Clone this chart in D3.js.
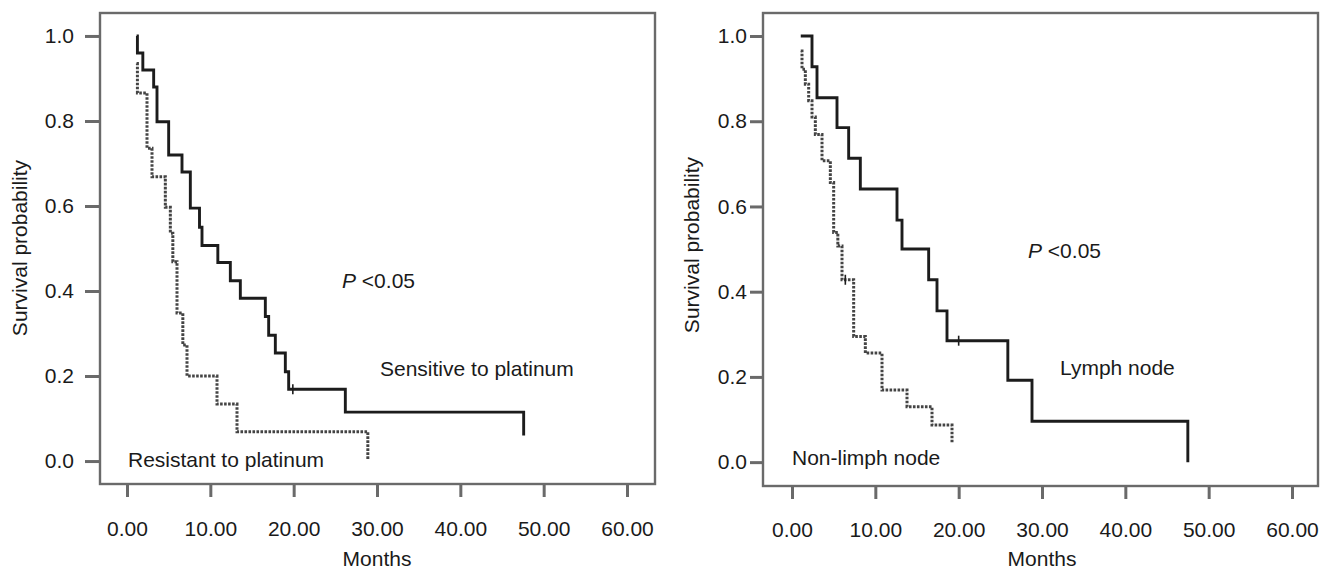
<!DOCTYPE html>
<html>
<head>
<meta charset="utf-8">
<script src="https://cdn.jsdelivr.net/npm/d3@7"></script>
<style>
  body { margin: 0; background: #fff; }
  svg { display: block; font-family: 'Liberation Sans', Arial, sans-serif; }
  .frame { fill: none; stroke: #6a6a6a; stroke-width: 2.4; }
  .axis path.domain { display: none; }
  .axis line { stroke: #6a6a6a; stroke-width: 3; }
  .axis text { font-size: 21px; fill: #1a1a1a; }
  .km { fill: none; }
  .km.solid { stroke: #1c1c1c; stroke-width: 2.9; }
  .km.dashed { stroke: #444; stroke-width: 3; stroke-dasharray: 2.6 1.4; }
  .censor { stroke: #1c1c1c; stroke-width: 1.6; }
  .label { font-size: 21px; fill: #1a1a1a; }
</style>
</head>
<body>
<svg width="1321" height="569"></svg>
<script>
const xTicks = [0, 10, 20, 30, 40, 50, 60]
const yTicks = [0, 0.2, 0.4, 0.6, 0.8, 1.0]

// left panel: platinum sensitivity
const sensitiveMonths = [1.15, 1.25, 1.9, 3.2, 3.6, 5.0, 6.6, 7.6, 8.7, 9.0, 10.9, 12.4, 13.6, 16.6, 17.0, 17.8, 19.0, 19.4, 26.2, 47.6]
const sensitiveSurv = [1.0, 0.96, 0.92, 0.88, 0.798, 0.72, 0.68, 0.595, 0.55, 0.507, 0.467, 0.424, 0.383, 0.34, 0.296, 0.254, 0.21, 0.169, 0.115, 0.06]
const sensitiveCensored = [[19.9, 0.169]]

const resistantMonths = [1.15, 1.25, 2.4, 3.0, 4.6, 5.2, 5.5, 6.0, 6.7, 7.2, 10.8, 13.2, 28.9]
const resistantSurv = [0.935, 0.866, 0.736, 0.669, 0.597, 0.536, 0.469, 0.348, 0.273, 0.2, 0.134, 0.069, 0.005]

// right panel: lymph node
const lymphMonths = [1.05, 2.4, 3.0, 5.4, 6.8, 8.2, 12.6, 13.2, 16.4, 17.4, 18.6, 25.9, 28.8, 47.5]
const lymphSurv = [1.0, 0.928, 0.855, 0.785, 0.713, 0.641, 0.568, 0.5, 0.428, 0.355, 0.285, 0.192, 0.096, 0.0]
const lymphCensored = [[20.0, 0.285]]

const nonLymphMonths = [1.05, 1.2, 1.6, 2.0, 2.4, 2.8, 3.6, 4.6, 5.0, 5.5, 6.0, 7.4, 8.8, 10.8, 13.8, 16.8, 19.2]
const nonLymphSurv = [0.965, 0.922, 0.887, 0.848, 0.81, 0.769, 0.707, 0.656, 0.539, 0.507, 0.428, 0.295, 0.256, 0.169, 0.13, 0.087, 0.045]
const nonLymphCensored = [[6.4, 0.428]]

const panels = [
  {
    frame: { left: 100, right: 655, top: 13, bottom: 484 },
    xDomain: [-3.24, 63.36], yDomain: [-0.054, 1.054],
    yTickSize: 15, yTickPad: 11, xTickSize: 13, xTickPad: 24,
    yLabel: { x: 20, y: 248 }, monthsY: 566,
    curves: [
      { months: sensitiveMonths, surv: sensitiveSurv, censored: sensitiveCensored, style: 'solid' },
      { months: resistantMonths, surv: resistantSurv, censored: [], style: 'dashed' }
    ],
    labels: [
      { text: 'Sensitive to platinum', x: 380, y: 376 },
      { text: 'Resistant to platinum', x: 128, y: 467 }
    ],
    pValue: { x: 342, y: 288 }
  },
  {
    frame: { left: 763, right: 1318, top: 13, bottom: 486 },
    xDomain: [-3.48, 63.12], yDomain: [-0.056, 1.054],
    yTickSize: 13, yTickPad: 3, xTickSize: 13, xTickPad: 23,
    yLabel: { x: 692, y: 245 }, monthsY: 566,
    curves: [
      { months: lymphMonths, surv: lymphSurv, censored: lymphCensored, style: 'solid' },
      { months: nonLymphMonths, surv: nonLymphSurv, censored: nonLymphCensored, style: 'dashed' }
    ],
    labels: [
      { text: 'Lymph node', x: 1060, y: 375 },
      { text: 'Non-limph node', x: 792, y: 465 }
    ],
    pValue: { x: 1028, y: 258 }
  }
]

const svg = d3.select('svg')

panels.forEach(p => {
  const f = p.frame
  const x = d3.scaleLinear().domain(p.xDomain).range([f.left, f.right])
  const y = d3.scaleLinear().domain(p.yDomain).range([f.bottom, f.top])
  const g = svg.append('g')

  // y
  g.append('g')
    .classed('axis', true)
    .attr('transform', `translate(${f.left}, 0)`)
    .call(d3.axisLeft(y).tickValues(yTicks).tickFormat(d3.format('.1f'))
      .tickSize(p.yTickSize).tickPadding(p.yTickPad))

  // x
  g.append('g')
    .classed('axis', true)
    .attr('transform', `translate(0, ${f.bottom})`)
    .call(d3.axisBottom(x).tickValues(xTicks).tickFormat(d3.format('.2f'))
      .tickSize(p.xTickSize).tickPadding(p.xTickPad))

  g.append('rect')
    .classed('frame', true)
    .attr('x', f.left).attr('y', f.top)
    .attr('width', f.right - f.left).attr('height', f.bottom - f.top)

  // curves
  const line = d3.line()
    .curve(d3.curveStepAfter)
    .x(d => x(d[0]))
    .y(d => y(d[1]))

  p.curves.forEach(c => {
    g.append('path')
      .attr('class', `km ${c.style}`)
      .attr('d', line(d3.zip(c.months, c.surv)))
    g.selectAll(null).data(c.censored)
      .enter().append('line')
        .classed('censor', true)
        .attr('x1', d => x(d[0])).attr('x2', d => x(d[0]))
        .attr('y1', d => y(d[1]) - 5).attr('y2', d => y(d[1]) + 5)
  })

  // text
  g.selectAll('text.label').data(p.labels)
    .enter().append('text')
      .classed('label', true)
      .attr('x', d => d.x).attr('y', d => d.y)
      .text(d => d.text)

  const pv = g.append('text')
    .classed('label', true)
    .attr('x', p.pValue.x).attr('y', p.pValue.y)
  pv.append('tspan').style('font-style', 'italic').text('P')
  pv.append('tspan').text(' <0.05')

  g.append('text')
    .classed('label', true)
    .attr('text-anchor', 'middle')
    .attr('transform', `translate(${p.yLabel.x}, ${p.yLabel.y}) rotate(-90)`)
    .attr('dy', '0.35em')
    .text('Survival probability')

  g.append('text')
    .classed('label', true)
    .attr('text-anchor', 'middle')
    .attr('x', x(30)).attr('y', p.monthsY)
    .text('Months')
})
</script>
</body>
</html>
